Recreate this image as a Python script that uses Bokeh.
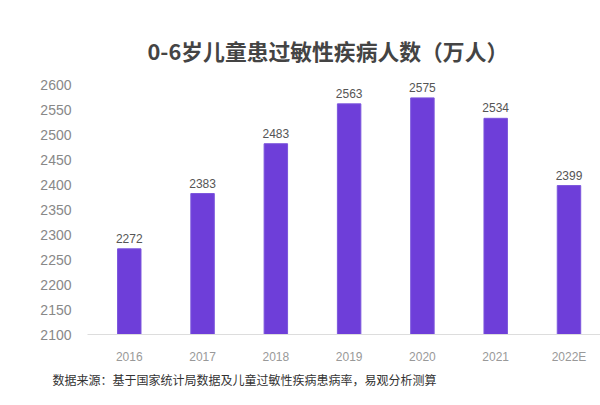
from bokeh.plotting import figure
from bokeh.models import Range1d, FixedTicker, Title, ColumnDataSource, LabelSet
from bokeh.core.properties import value
from bokeh.embed import file_html
from bokeh.resources import INLINE

categories = ["2016", "2017", "2018", "2019", "2020", "2021", "2022E"]
values = [2272, 2383, 2483, 2563, 2575, 2534, 2399]
y_ticks = [2100, 2150, 2200, 2250, 2300, 2350, 2400, 2450, 2500, 2550, 2600]
title_text = "0-6岁儿童患过敏性疾病人数（万人）"
source_text = "数据来源：基于国家统计局数据及儿童过敏性疾病患病率，易观分析测算"

xs = list(range(len(categories)))
src = ColumnDataSource(dict(x=xs, top=values, label=[str(v) for v in values]))

p = figure(width=600, height=405, output_backend="svg", toolbar_location=None,
           x_range=Range1d(-0.57, 6.43), y_range=Range1d(2100, 2630),
           min_border_left=87, min_border_right=0, min_border_top=70, min_border_bottom=71)
p.background_fill_color = "white"
p.border_fill_color = "white"
p.outline_line_color = None
p.xgrid.grid_line_color = None
p.ygrid.grid_line_color = None

p.vbar(x="x", top="top", bottom=2100, width=0.32, source=src,
       fill_color="#6e3ed9", line_color="#7b55dc", line_width=1)

labels = LabelSet(x="x", y="top", text="label", source=src, text_align="center",
                  text_baseline="bottom", y_offset=6, text_font_size="12px",
                  text_color="#555555", text_font=value("Liberation Sans"))
p.add_layout(labels)

p.yaxis.ticker = FixedTicker(ticks=y_ticks)
p.yaxis.axis_line_color = None
p.yaxis.major_tick_line_color = None
p.yaxis.minor_tick_line_color = None
p.yaxis.major_label_text_font_size = "14px"
p.yaxis.major_label_text_color = "#888888"
p.yaxis.major_label_text_font = "Liberation Sans"
p.yaxis.major_label_standoff = 10

p.xaxis.ticker = FixedTicker(ticks=xs)
p.xaxis.major_label_overrides = {i: c for i, c in enumerate(categories)}
p.xaxis.axis_line_color = "#dddddd"
p.xaxis.major_tick_line_color = None
p.xaxis.minor_tick_line_color = None
p.xaxis.major_label_text_font_size = "12px"
p.xaxis.major_label_text_color = "#999999"
p.xaxis.major_label_text_font = "Liberation Sans"
p.xaxis.major_label_standoff = 9

p.title.visible = False
t = Title(text=title_text, align="left", offset=60, text_font_size="21.8px",
          text_font_style="bold", text_color="#444444", text_font="Noto Sans CJK SC")
p.add_layout(t, "above")

f = Title(text=source_text, align="left", offset=-35, text_font_size="12px",
          text_font_style="normal", text_color="#333333", text_font="Noto Sans CJK SC",
          standoff=5)
p.add_layout(f, "below")

open("out.html", "w").write(file_html(p, INLINE))
